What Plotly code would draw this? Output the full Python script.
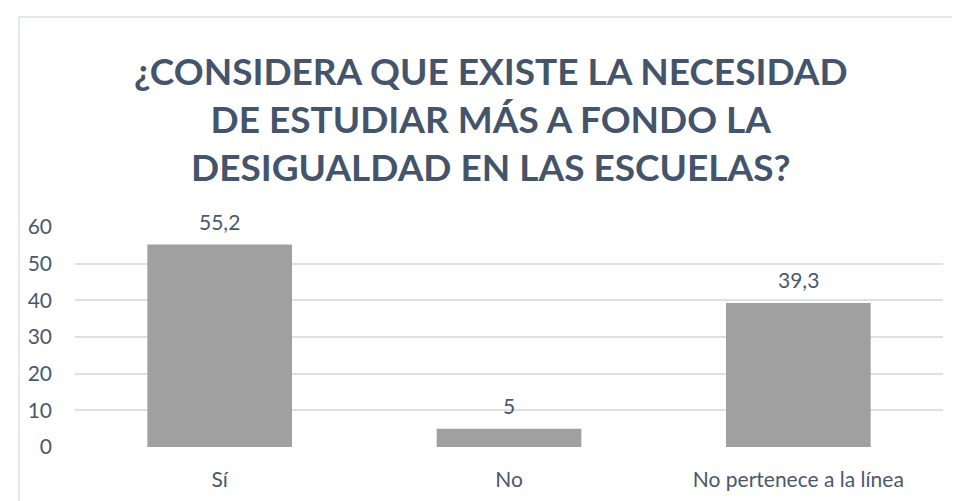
import plotly.graph_objects as go

categories = ["Sí", "No", "No pertenece a la línea"]
values = [55.2, 5, 39.3]
labels = ["55,2", "5", "39,3"]
y_ticks = [0, 10, 20, 30, 40, 50, 60]

title_lines = [
    "¿CONSIDERA QUE EXISTE LA NECESIDAD",
    "DE ESTUDIAR MÁS A FONDO LA",
    "DESIGUALDAD EN LAS ESCUELAS?",
]

text_color = "#4A586D"
font_family = "Lato, Calibri, sans-serif"

fig = go.Figure()
fig.add_trace(go.Bar(
    x=categories,
    y=values,
    width=0.5,
    marker=dict(color="#A0A0A0", line=dict(width=0)),
    hoverinfo="skip",
))

# data labels above the bars
for cat, val, lab in zip(categories, values, labels):
    fig.add_annotation(x=cat, y=val, text=lab, showarrow=False,
                       yanchor="bottom", yshift=9,
                       font=dict(family=font_family, size=21, color=text_color))

fig.add_annotation(
    text="<br>".join(title_lines),
    xref="paper", yref="paper", x=0.479, y=1.495,
    xanchor="center", yanchor="middle", showarrow=False,
    font=dict(family=font_family, size=37, color="#44546A", weight="bold"),
    align="center",
)

# chart frame (left and top edges, the rest is cropped)
fig.add_shape(type="line", xref="paper", yref="paper",
              x0=-0.0645, x1=-0.0645, y0=-0.4, y1=1.9545,
              line=dict(color="#DDE1E7", width=1.5))
fig.add_shape(type="line", xref="paper", yref="paper",
              x0=-0.0645, x1=1.2, y0=1.9545, y1=1.9545,
              line=dict(color="#DDE1E7", width=1.5))

fig.update_layout(
    width=960, height=501,
    margin=dict(l=67, r=25, t=219, b=62),
    paper_bgcolor="white", plot_bgcolor="white",
    showlegend=False,
    bargap=0.5,
    font=dict(family=font_family, size=21, color=text_color),
    xaxis=dict(showgrid=False, showline=False, zeroline=False,
               ticks="", ticklabelstandoff=18,
               tickfont=dict(size=21, color=text_color)),
    yaxis=dict(range=[0, 60], tickvals=y_ticks, showgrid=True,
               gridcolor="#DDE1E7", gridwidth=1.5, zeroline=False,
               showline=False, ticks="", ticklabelstandoff=22,
               tickfont=dict(size=21, color=text_color)),
)

fig.write_html("out.html")
